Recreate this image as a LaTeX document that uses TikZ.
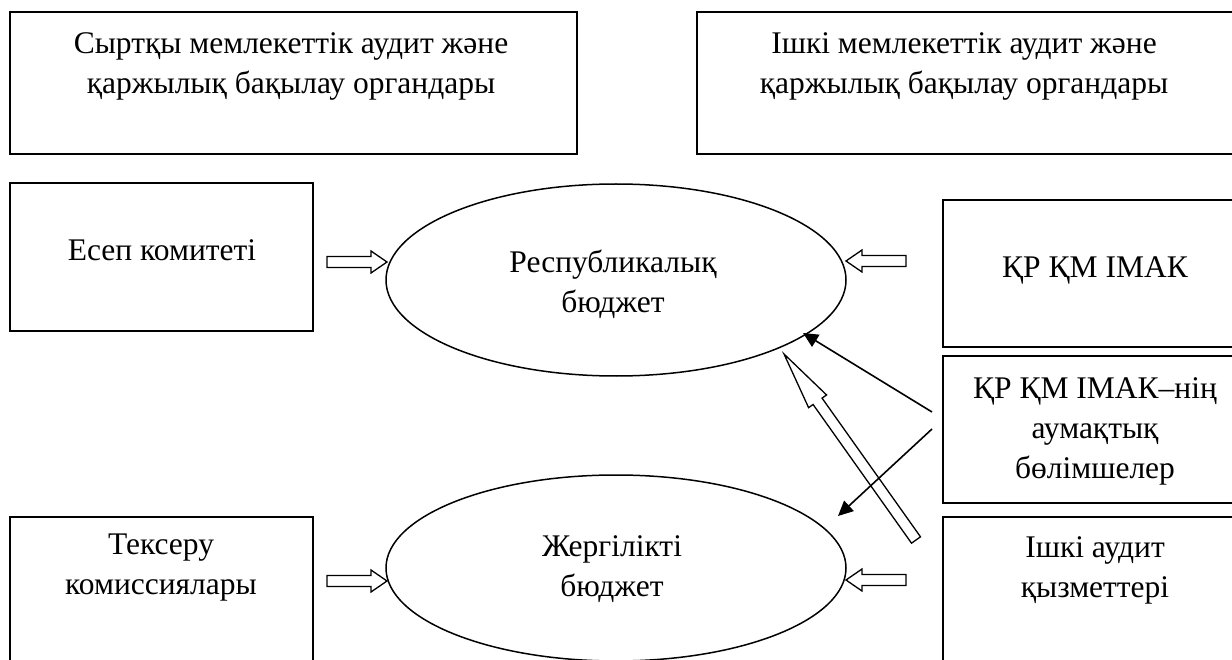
\documentclass[tikz,border=0pt]{standalone}
\usepackage{fontspec}
\setmainfont{Liberation Serif}
\usetikzlibrary{calc,arrows.meta,shapes.geometric}
\tikzset{
  box/.style={draw, line width=1.5pt, rectangle, anchor=north west, inner sep=0pt, outer sep=0pt},
  oval/.style={draw, line width=1.5pt, ellipse, inner sep=0pt, outer sep=0pt},
  txt/.style={align=center, inner sep=0pt, font=\fontsize{31.5}{40}\selectfont},
  hollow/.style={draw, fill=white, line width=1.3pt, line join=miter},
  blackarr/.style={line width=1.6pt, -{Triangle[length=15pt,width=14pt]}}
}
\newcommand{\hollowarr}[5]{%
  \coordinate (hb) at ($(#2)!#5!(#1)$);
  \draw[hollow] ($(#1)!#3!90:(#2)$) -- ($(hb)!#3!90:(#2)$) -- ($(hb)!#4!90:(#2)$) -- (#2)
    -- ($(hb)!#4!-90:(#2)$) -- ($(hb)!#3!-90:(#2)$) -- ($(#1)!#3!-90:(#2)$) -- cycle;
}
\begin{document}
\begin{tikzpicture}[x=1pt, y=-1pt]
\fill[white] (0,0) rectangle (1232,660);
\clip (0,0) rectangle (1232,660);
% boxes
\node[box, minimum width=567pt, minimum height=142pt] (ext) at (10,12) {};
\node[box, minimum width=545pt, minimum height=142pt] (int) at (697,12) {};
\node[box, minimum width=303pt, minimum height=148pt] (esep) at (10,183) {};
\node[box, minimum width=310pt, minimum height=147pt] (imak) at (943,200) {};
\node[box, minimum width=310pt, minimum height=147pt] (terr) at (943,356) {};
\node[box, minimum width=310pt, minimum height=200pt] (ishki) at (943,517) {};
\node[box, minimum width=303pt, minimum height=200pt] (tekseru) at (10,517) {};
% ellipses
\node[oval, minimum width=460pt, minimum height=192pt] (rep) at (616,280) {};
\node[oval, minimum width=460pt, minimum height=186pt] (loc) at (616,568) {};
% texts
\node[txt] (extT) at (291,66) {Сыртқы мемлекеттік аудит және\\қаржылық бақылау органдары};
\node[txt] (intT) at (964,66) {Ішкі мемлекеттік аудит және\\қаржылық бақылау органдары};
\node[txt] (esepT) at (162,250) {Есеп комитеті};
\node[txt] (imakT) at (1095,270) {ҚР ҚМ ІМАК};
\node[txt] (terrT) at (1095,431) {ҚР ҚМ ІМАК–нің\\аумақтық\\бөлімшелер};
\node[txt] (ishkiT) at (1095,570) {Ішкі аудит\\қызметтері};
\node[txt] (tekseruT) at (161,568) {Тексеру\\комиссиялары};
\node[txt] (repT) at (613,284) {Республикалық\\бюджет};
\node[txt] (locT) at (612,569) {Жергілікті\\бюджет};
% hollow arrow end points
\coordinate (a1s) at (327,262); \coordinate (a1e) at (387,262);
\coordinate (a2s) at (906,261); \coordinate (a2e) at (846,261);
\coordinate (a3s) at (327,581); \coordinate (a3e) at (387,581);
\coordinate (a4s) at (906,580); \coordinate (a4e) at (846,580);
\coordinate (a5s) at (916,540); \coordinate (a5e) at (784,354);
\hollowarr{a1s}{a1e}{5.5pt}{11pt}{16pt}
\hollowarr{a2s}{a2e}{5.5pt}{11pt}{16pt}
\hollowarr{a3s}{a3e}{5.5pt}{11pt}{16pt}
\hollowarr{a4s}{a4e}{5.5pt}{11pt}{16pt}
\hollowarr{a5s}{a5e}{5.5pt}{11pt}{58pt}
% black arrows
\coordinate (b1s) at (932,412); \coordinate (b1e) at (803,333);
\coordinate (b2s) at (932,429); \coordinate (b2e) at (838,516);
\draw[blackarr] (b1s) -- (b1e);
\draw[blackarr] (b2s) -- (b2e);
\end{tikzpicture}
\end{document}
